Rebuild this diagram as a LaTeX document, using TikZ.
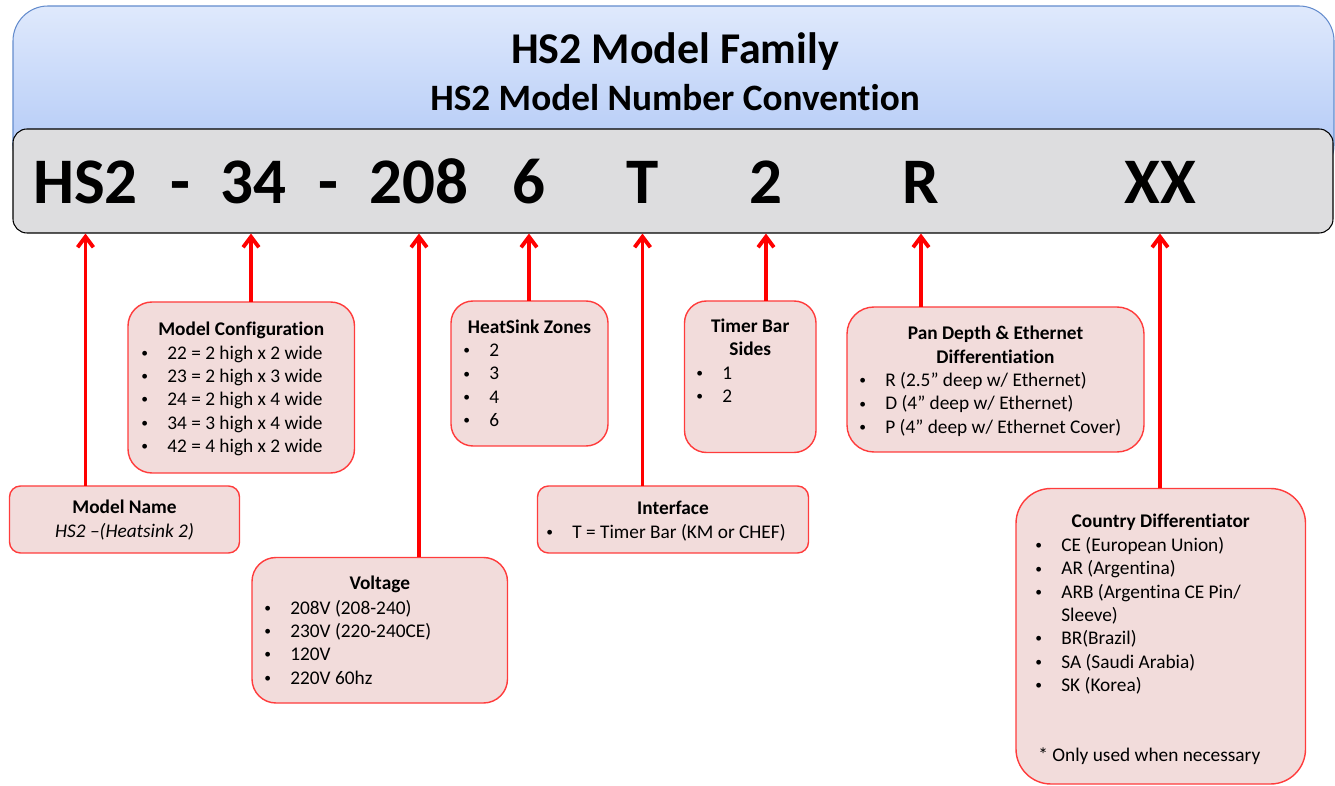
\documentclass[tikz,border=0pt]{standalone}
\usepackage{graphicx}
\usepackage{fontspec}
\setmainfont{Carlito}[Ligatures={NoCommon}]
\usetikzlibrary{fit,arrows.meta}
\definecolor{boxfill}{HTML}{F2DCDB}
\definecolor{boxline}{RGB}{255,60,60}
\definecolor{barfill}{RGB}{221,221,223}
\definecolor{bantop}{RGB}{223,233,252}
\definecolor{banbot}{RGB}{172,197,246}
\definecolor{banline}{RGB}{100,140,205}
\newcommand\smbul{\raisebox{0.1em}{\scalebox{0.7}{•}}}
\newcommand\itm[1]{\makebox[0.52cm][l]{\smbul}#1}
\newcommand\bodyfont{\fontsize{11}{13.24}\selectfont}
\begin{document}
\begin{tikzpicture}[x=0.02cm, y=-0.02cm,
  box/.style={draw=boxline, fill=boxfill, line width=0.8pt, inner sep=0pt, outer sep=0pt},
  ttl/.style={font=\bodyfont\bfseries, inner sep=0pt, anchor=base},
  lst/.style={font=\bodyfont, inner sep=0pt, anchor=base west},
  big/.style={font=\fontsize{37}{40}\selectfont\bfseries, inner sep=0pt, anchor=base},
  arr/.style={draw=red, line width=2.2pt, -{Straight Barb[length=6pt,width=9pt]}}]
\useasboundingbox (0,0) rectangle (1335,786);
% banner
\node[fit={(13,6)(1334,180)}, inner sep=0pt, draw=banline, line width=0.6pt, rounded corners=0.7cm, top color=bantop, bottom color=banbot] (banner) {};
\node[font=\fontsize{25}{30}\selectfont\bfseries, anchor=base, inner sep=0pt] (t1) at (675,64) {HS2 Model Family};
\node[font=\fontsize{21.2}{25}\selectfont\bfseries, anchor=base, inner sep=0pt] (t2) at (675,111) {HS2 Model Number Convention};
% bar
\node[fit={(13,129)(1333,233)}, inner sep=0pt, draw=black, line width=0.6pt, rounded corners=0.28cm, fill=barfill] (bar) {};
\node[big] (c1) at (85.5,204) {HS2};
\node[big] (d1) at (180,204) {-};
\node[big] (c2) at (253.5,204) {34};
\node[big] (d2) at (328,204) {-};
\node[big] (c3) at (419,204) {208};
\node[big] (c4) at (529,204) {6};
\node[big] (c5) at (642.5,204) {T};
\node[big] (c6) at (766,204) {2};
\node[big] (c7) at (921,204) {R};
\node[big] (c8) at (1160,204) {XX};
% boxes
\node[box, rounded corners=0.22cm, fit={(9.5,486)(239.5,553)}] (bname) {};
\node[box, rounded corners=0.48cm, fit={(128,302)(354.5,473)}] (bcfg) {};
\node[box, rounded corners=0.48cm, fit={(252,557.5)(507.5,703)}] (bvolt) {};
\node[box, rounded corners=0.44cm, fit={(451,301)(608,446)}] (bzone) {};
\node[box, rounded corners=0.22cm, fit={(537.5,486)(808.5,553)}] (bint) {};
\node[box, rounded corners=0.44cm, fit={(684.5,301)(816,452.5)}] (btim) {};
\node[box, rounded corners=0.54cm, fit={(847,307)(1144,452)}] (bpan) {};
\node[box, rounded corners=0.7cm, fit={(1016,488.5)(1305.5,784)}] (bctry) {};
% arrows
\draw[arr] (c1 |- bname.north) -- (c1 |- bar.south);
\draw[arr] (251,0 |- bcfg.north) -- (251,0 |- bar.south);
\draw[arr] (c3 |- bvolt.north) -- (c3 |- bar.south);
\draw[arr] (c4 |- bzone.north) -- (c4 |- bar.south);
\draw[arr] (c5 |- bint.north) -- (c5 |- bar.south);
\draw[arr] (c6 |- btim.north) -- (c6 |- bar.south);
\draw[arr] (c7 |- bpan.north) -- (c7 |- bar.south);
\draw[arr] (c8 |- bctry.north) -- (c8 |- bar.south);
% texts
\node[ttl] (tname) at (bname.center |- 0,514) {Model Name};
\node[font=\bodyfont\itshape, inner sep=0pt, anchor=base] (tname2) at (bname.center |- 0,537.3) {HS2 –(Heatsink 2)};
\node[ttl] (tcfg) at (bcfg.center |- 0,336) {Model Configuration};
\node[lst] (lcfg) at (141,359.3) {\begin{tabular}[t]{@{}l@{}}\itm{22 = 2 high x 2 wide}\\\itm{23 = 2 high x 3 wide}\\\itm{24 = 2 high x 4 wide}\\\itm{34 = 3 high x 4 wide}\\\itm{42 = 4 high x 2 wide}\end{tabular}};
\node[ttl] (tvolt) at (bvolt.center |- 0,590) {Voltage};
\node[lst] (lvolt) at (264,614.3) {\begin{tabular}[t]{@{}l@{}}\itm{208V (208-240)}\\\itm{230V (220-240CE)}\\\itm{120V}\\\itm{220V 60hz}\end{tabular}};
\node[ttl] (tzone) at (bzone.center |- 0,333.3) {HeatSink Zones};
\node[lst] (lzone) at (463,356.7) {\begin{tabular}[t]{@{}l@{}}\itm{2}\\\itm{3}\\\itm{4}\\\itm{6}\end{tabular}};
\node[ttl] (tint) at (bint.center |- 0,514.3) {Interface};
\node[lst] (lint) at (546,538.3) {\itm{T = Timer Bar (KM or CHEF)}};
\node[ttl] (ttim) at (btim.center |- 0,332.7) {\begin{tabular}[t]{@{}c@{}}Timer Bar\\Sides\end{tabular}};
\node[lst] (ltim) at (696,379.3) {\begin{tabular}[t]{@{}l@{}}\itm{1}\\\itm{2}\end{tabular}};
\node[ttl] (tpan) at (bpan.center |- 0,340) {\begin{tabular}[t]{@{}c@{}}Pan Depth \& Ethernet\\Differentiation\end{tabular}};
\node[lst] (lpan) at (859,386.7) {\begin{tabular}[t]{@{}l@{}}\itm{R (2.5” deep w/ Ethernet)}\\\itm{D (4” deep w/ Ethernet)}\\\itm{P (4” deep w/ Ethernet Cover)}\end{tabular}};
\node[ttl] (tctry) at (bctry.center |- 0,527.7) {Country Differentiator};
\node[lst] (lctry) at (1035,551.7) {\begin{tabular}[t]{@{}l@{}}\itm{CE (European Union)}\\\itm{AR (Argentina)}\\\itm{ARB (Argentina CE Pin/}\\\hspace*{0.52cm}Sleeve)\\\itm{BR(Brazil)}\\\itm{SA (Saudi Arabia)}\\\itm{SK (Korea)}\end{tabular}};
\node[lst] (nctry) at (1038,761.7) {* Only used when necessary};
\end{tikzpicture}
\end{document}
